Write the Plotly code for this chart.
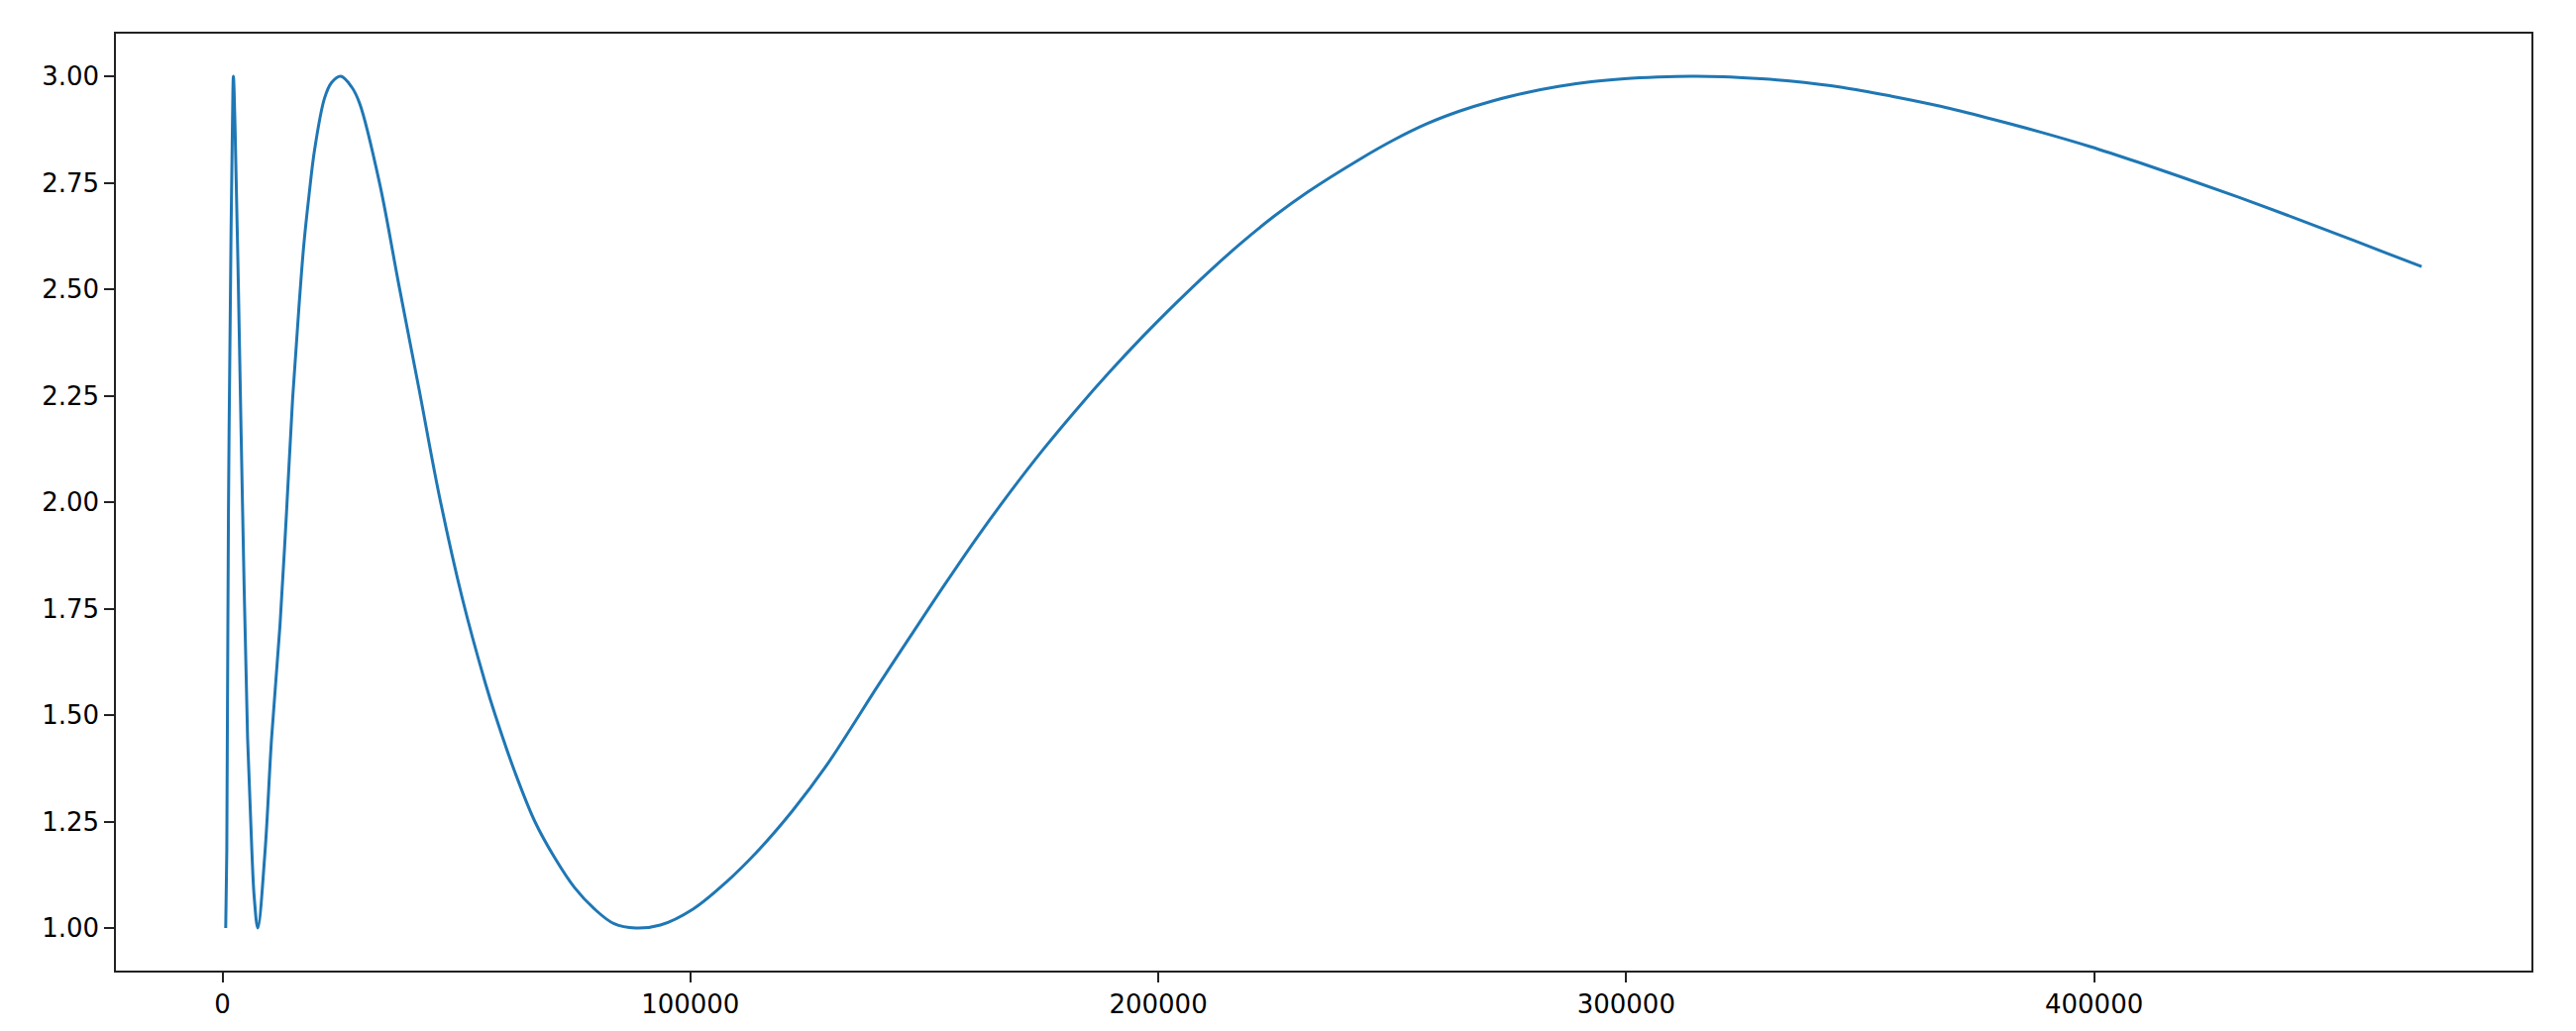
import plotly.graph_objects as go

# Values
x_values = [
    700, 930, 1285, 1848, 2132, 2343, 2695, 3402, 4319, 5377, 6294, 6789,
    7560, 9100, 10500, 12300, 13700, 15000, 16300, 17374, 18500, 19700,
    21800, 23300, 25300, 27606, 29369, 33603, 37720, 42071, 46305, 51246,
    56185, 58302, 62537, 66770, 71005, 75239, 79473, 83707, 88295, 93586,
    100642, 107690, 114755, 121812, 128870, 140157, 147214, 154271,
    161328, 168385, 175441, 182498, 189555, 196612, 203669, 210725, 217782,
    224839, 231896, 243187, 250244, 257301, 264357, 271414, 278471,
    285528, 292585, 299641, 306698, 313755, 320812, 327869, 334925, 346216,
    356801, 367386, 377971, 388556, 399141, 409726, 420311, 430896, 441481,
    452066, 462651, 470000,
]
y_values = [
    1.000, 1.179, 1.977, 2.642, 2.881, 3.000, 2.881, 2.509, 1.977, 1.445,
    1.179, 1.073, 1.000, 1.179, 1.445, 1.711, 1.977, 2.243, 2.450, 2.602,
    2.720, 2.828, 2.948, 2.985, 3.000, 2.975, 2.935, 2.748, 2.509, 2.262,
    2.017, 1.775, 1.575, 1.500, 1.365, 1.250, 1.165, 1.095, 1.045, 1.010,
    1.000, 1.007, 1.045, 1.108, 1.185, 1.275, 1.378, 1.570, 1.688, 1.805,
    1.918, 2.024, 2.124, 2.217, 2.305, 2.388, 2.466, 2.540, 2.609,
    2.672, 2.728, 2.806, 2.850, 2.888, 2.918, 2.942, 2.961,
    2.976, 2.987, 2.994, 2.998, 3.000, 2.999, 2.995, 2.989, 2.974,
    2.953, 2.929, 2.900, 2.869, 2.835, 2.797, 2.757, 2.716, 2.673,
    2.629, 2.584, 2.553,
]
x_tick_values = [0, 100000, 200000, 300000, 400000]
x_tick_labels = ["0", "100000", "200000", "300000", "400000"]
y_tick_values = [1.00, 1.25, 1.50, 1.75, 2.00, 2.25, 2.50, 2.75, 3.00]
y_tick_labels = ["1.00", "1.25", "1.50", "1.75", "2.00", "2.25", "2.50", "2.75", "3.00"]

# matplotlib-like 5% margins
xmin, xmax = min(x_values), max(x_values)
ymin, ymax = min(y_values), max(y_values)
xpad = 0.05 * (xmax - xmin)
ypad = 0.05 * (ymax - ymin)

fig = go.Figure()
fig.add_trace(go.Scatter(
    x=x_values, y=y_values, mode="lines",
    line=dict(color="#1f77b4", width=3, shape="spline", smoothing=1.0,
              simplify=False),
    hoverinfo="skip", showlegend=False,
))

axis_common = dict(
    showgrid=False, zeroline=False, showline=True, mirror=True,
    linecolor="#222222", linewidth=1.5,
    ticks="outside", ticklen=10, tickwidth=1.5, tickcolor="#222222",
    tickfont=dict(family="DejaVu Sans", size=26, color="black"),
)

fig.update_layout(
    width=2600, height=1041, autosize=False,
    margin=dict(l=117, r=45, t=34, b=55, pad=0),
    paper_bgcolor="white", plot_bgcolor="white",
    xaxis=dict(range=[xmin - xpad, xmax + xpad], tickmode="array",
               tickvals=x_tick_values, ticktext=x_tick_labels, **axis_common),
    yaxis=dict(range=[ymin - ypad, ymax + ypad], tickmode="array",
               tickvals=y_tick_values, ticktext=y_tick_labels, **axis_common),
)

fig.write_html("out.html", config={"displayModeBar": False},
               post_script="document.body.style.margin='0';")
